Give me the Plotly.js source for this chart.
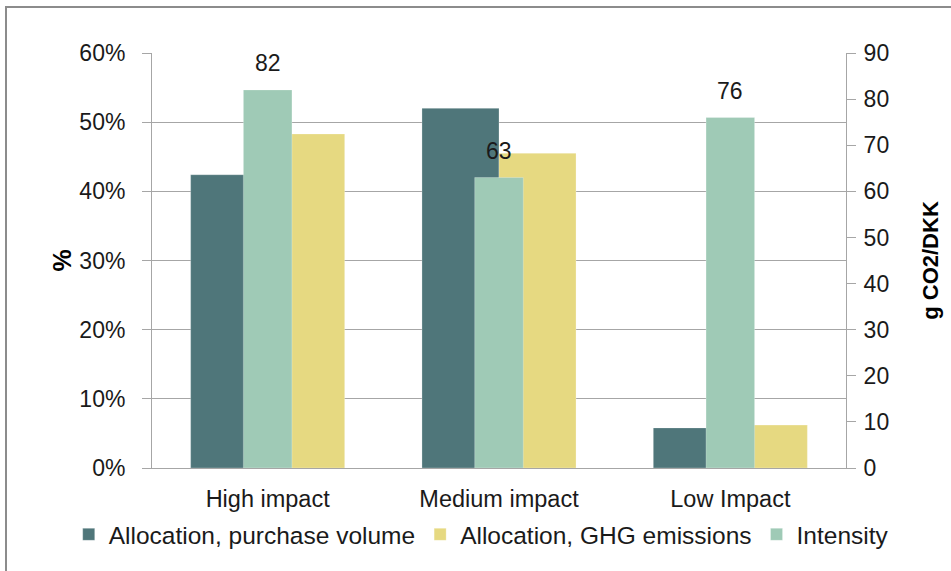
<!DOCTYPE html>
<html>
<head>
<meta charset="utf-8">
<script src="https://cdn.plot.ly/plotly-3.0.1.min.js"></script>
<style>
  html, body { margin: 0; padding: 0; background: #ffffff; width: 951px; height: 571px; overflow: hidden; }
  #frame { position: absolute; left: 5px; top: 6px; width: 1000px; height: 600px; border: 2px solid #8c8c8c; box-sizing: border-box; pointer-events: none; z-index: 5; }
  #chart { position: absolute; left: 0; top: 0; width: 951px; height: 571px; }
</style>
</head>
<body>
<div id="chart"></div>
<div id="frame"></div>
<script>
const categories = ['High impact', 'Medium impact', 'Low Impact'];
const purchaseVolume = [0.424, 0.520, 0.058];
const ghgEmissions = [0.483, 0.455, 0.062];
const intensity = [82, 63, 76];
const seriesNames = ['Allocation, purchase volume', 'Allocation, GHG emissions', 'Intensity'];
const seriesColors = ['#4F767A', '#E6D981', '#9FCAB6'];

const FONT = 'Liberation Sans, Arial, sans-serif';
const axisGray = '#A6A6A6';

const traces = [
  {
    type: 'bar', x: categories, y: purchaseVolume, name: seriesNames[0],
    marker: { color: seriesColors[0], line: { color: 'rgba(255,255,255,0.5)', width: 0.5 } },
    xaxis: 'x', yaxis: 'y', hoverinfo: 'x+y'
  },
  {
    type: 'bar', x: categories, y: ghgEmissions, name: seriesNames[1],
    marker: { color: seriesColors[1], line: { color: 'rgba(255,255,255,0.5)', width: 0.5 } },
    xaxis: 'x', yaxis: 'y', hoverinfo: 'x+y'
  },
  {
    type: 'bar', x: categories, y: intensity, name: seriesNames[2],
    width: 0.21,
    marker: { color: seriesColors[2], line: { color: 'rgba(255,255,255,0.5)', width: 0.5 } },
    xaxis: 'x', yaxis: 'y2', hoverinfo: 'x+y'
  }
];

const annotations = categories.map((c, i) => ({
  x: c, y: intensity[i], xref: 'x', yref: 'y2',
  text: String(intensity[i]), showarrow: false,
  yanchor: 'bottom', yshift: 12,
  font: { family: FONT, size: 23, color: '#1a1a1a' }
}));

const layout = {
  width: 951, height: 571,
  margin: { l: 152, r: 105, t: 53, b: 103 },
  paper_bgcolor: 'rgba(0,0,0,0)',
  plot_bgcolor: '#ffffff',
  font: { family: FONT, size: 23, color: '#1a1a1a' },
  barmode: 'group',
  bargap: 0.334,
  bargroupgap: 0,
  showlegend: true,
  legend: {
    orientation: 'h', x: -0.12, xanchor: 'left', y: -0.16, yanchor: 'middle',
    font: { family: FONT, size: 24.5, color: '#1a1a1a' },
    traceorder: 'normal', itemwidth: 30, bgcolor: 'rgba(0,0,0,0)'
  },
  xaxis: {
    type: 'category', showline: true, linecolor: axisGray, linewidth: 1,
    ticks: '', showgrid: false, zeroline: false, ticklabelstandoff: 10,
    tickfont: { family: FONT, size: 23.5, color: '#1a1a1a' }
  },
  yaxis: {
    range: [0, 0.6], dtick: 0.1, tick0: 0, tickformat: '.0%',
    showgrid: true, gridcolor: axisGray, gridwidth: 1,
    showline: true, linecolor: axisGray, linewidth: 1,
    ticks: 'outside', ticklen: 9, tickcolor: axisGray,
    ticklabelstandoff: 12, zeroline: false,
    tickfont: { family: FONT, size: 23, color: '#1a1a1a' },
    title: { text: '<b>%</b>', font: { family: FONT, size: 25, color: '#000000' }, standoff: 0 }
  },
  yaxis2: {
    overlaying: 'y', side: 'right', anchor: 'x',
    range: [0, 90], dtick: 10, tick0: 0,
    showgrid: false, showline: true, linecolor: axisGray, linewidth: 1,
    ticks: 'outside', ticklen: 9, tickcolor: axisGray,
    ticklabelstandoff: 3, zeroline: false,
    tickfont: { family: FONT, size: 23, color: '#1a1a1a' },
    title: { text: '<b>g CO2/DKK</b>', font: { family: FONT, size: 22, color: '#000000' }, standoff: 34 }
  },
  annotations: annotations
};

Plotly.newPlot('chart', traces, layout, { displayModeBar: false, staticPlot: true });
</script>
</body>
</html>
